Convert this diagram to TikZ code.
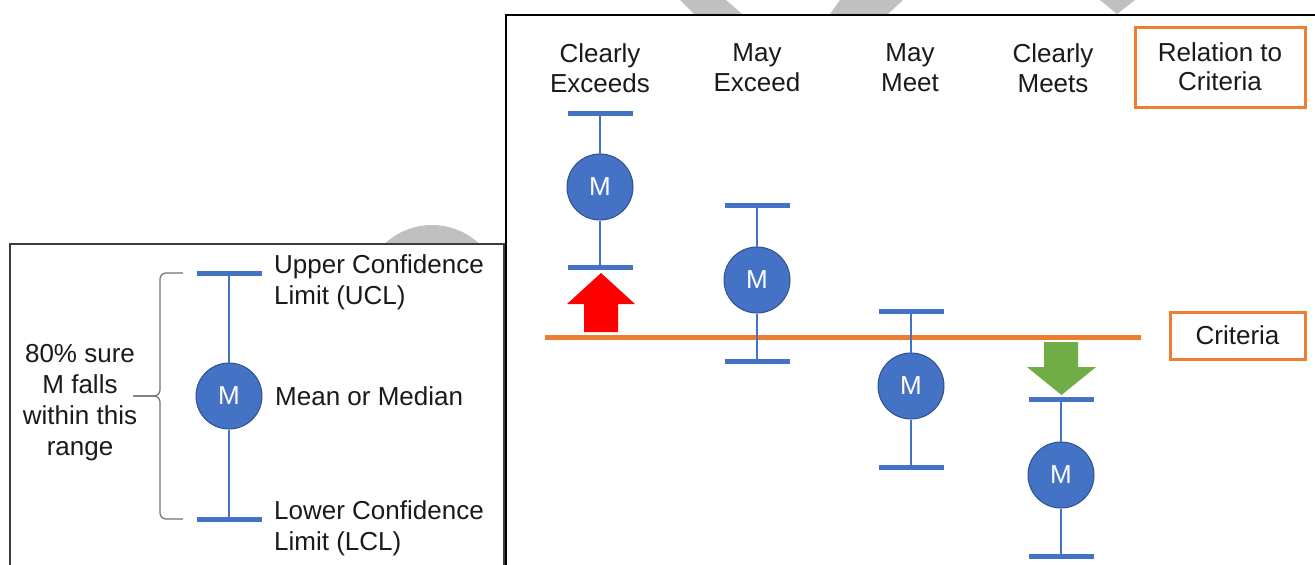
\documentclass[tikz,border=0pt]{standalone}
\usepackage{fontspec}
\setmainfont{Liberation Sans}
\definecolor{blu}{HTML}{4472C4}
\definecolor{bluD}{HTML}{2F528F}
\definecolor{org}{HTML}{ED7D31}
\definecolor{grn}{HTML}{70AD47}
\definecolor{txt}{HTML}{1A1A1A}
\definecolor{wm}{HTML}{C0C0C0}
\definecolor{frm}{HTML}{3C3C3C}
\tikzset{
  lbl/.style={font=\fontsize{26}{30}\selectfont, text=txt, align=center, inner sep=0pt},
  lbll/.style={font=\fontsize{26}{31}\selectfont, text=txt, align=left, inner sep=0pt, anchor=west},
  mnode/.style={circle, fill=blu, draw=bluD, line width=1pt, minimum size=66pt, inner sep=0pt, text=white, font=\fontsize{26}{30}\selectfont},
  capbar/.style={draw=blu, line width=5pt},
  whisk/.style={draw=blu, line width=2pt},
  obox/.style={draw=org, line width=3pt, fill=white, inner sep=0pt, font=\fontsize{26}{29}\selectfont, text=txt, align=center},
}
\begin{document}
\begin{tikzpicture}[x=1pt,y=-1pt]
\useasboundingbox (0,0) rectangle (1315,565);
\clip (0,0) rectangle (1315,565);
\fill[white] (0,0) rectangle (1315,565);
% watermark fragments
\fill[wm] (680,0) -- (726,0) -- (742,14) -- (694,14) -- cycle;
\fill[wm] (840,0) -- (903,0) -- (888,14) -- (830,14) -- cycle;
\fill[wm] (1100,0) -- (1135,0) -- (1117,14) -- cycle;
\fill[wm] (432,294) circle (69);
% main frame
\draw[black, line width=2.5pt] (1330,15) -- (506,15) -- (506,580);
% column headings
\node[lbl] (h1) at (600,68) {Clearly\\Exceeds};
\node[lbl] (h2) at (757,68) {May\\Exceed};
\node[lbl] (h3) at (910,68) {May\\Meet};
\node[lbl] (h4) at (1053,68) {Clearly\\Meets};
\node[obox, minimum width=170pt, minimum height=80pt] (rel) at (1220,67) {Relation to\\Criteria};
% criteria line
\coordinate (crL) at (545,337);
\coordinate (crR) at (1141,337);
\draw[org, line width=5pt] (crL) -- (crR);
\node[obox, minimum width=135pt, minimum height=47pt] (crit) at (1237.5,335.5) {Criteria};
% arrows
\fill[red] (584,332) -- (618,332) -- (618,304) -- (635,304) -- (601,273) -- (567,304) -- (584,304) -- cycle;
\fill[grn] (1044,342) -- (1078,342) -- (1078,367) -- (1096,367) -- (1061.5,395) -- (1027,367) -- (1044,367) -- cycle;
% column 1
\coordinate (t1) at (600,113);
\coordinate (b1) at (600,267);
\node[mnode] (m1) at (600,187) {M};
\draw[whisk] (t1) -- (m1);
\draw[whisk] (m1) -- (b1);
\draw[capbar] ([xshift=-32.5pt]t1) -- ([xshift=32.5pt]t1);
\draw[capbar] ([xshift=-32.5pt]b1) -- ([xshift=32.5pt]b1);
% column 2
\coordinate (t2) at (757,205);
\coordinate (b2) at (757,361);
\node[mnode] (m2) at (757,280) {M};
\draw[whisk] (t2) -- (m2);
\draw[whisk] (m2) -- (b2);
\draw[capbar] ([xshift=-32.5pt]t2) -- ([xshift=32.5pt]t2);
\draw[capbar] ([xshift=-32.5pt]b2) -- ([xshift=32.5pt]b2);
% column 3
\coordinate (t3) at (911,311);
\coordinate (b3) at (911,467);
\node[mnode] (m3) at (911,386) {M};
\draw[whisk] (t3) -- (m3);
\draw[whisk] (m3) -- (b3);
\draw[capbar] ([xshift=-32.5pt]t3) -- ([xshift=32.5pt]t3);
\draw[capbar] ([xshift=-32.5pt]b3) -- ([xshift=32.5pt]b3);
% column 4
\coordinate (t4) at (1061,399);
\coordinate (b4) at (1061,556);
\node[mnode] (m4) at (1061,475) {M};
\draw[whisk] (t4) -- (m4);
\draw[whisk] (m4) -- (b4);
\draw[capbar] ([xshift=-32.5pt]t4) -- ([xshift=32.5pt]t4);
\draw[capbar] ([xshift=-32.5pt]b4) -- ([xshift=32.5pt]b4);
% legend box
\draw[frm, fill=white, line width=2pt] (10,244) rectangle (504,580);
\coordinate (lt) at (229,273);
\coordinate (lb) at (229,519);
\node[mnode] (lm) at (229,396) {M};
\draw[whisk] (lt) -- (lm);
\draw[whisk] (lm) -- (lb);
\draw[capbar] ([xshift=-32.5pt]lt) -- ([xshift=32.5pt]lt);
\draw[capbar] ([xshift=-32.5pt]lb) -- ([xshift=32.5pt]lb);
\node[lbll] (ucl) at (274,282) {Upper Confidence\\Limit (UCL)};
\node[lbll] (mean) at (275,396) {Mean or Median};
\node[lbll] (lcl) at (274,528) {Lower Confidence\\Limit (LCL)};
% brace
\coordinate (brT) at (183,273);
\coordinate (brB) at (183,519);
\coordinate (brM) at (160,396);
\coordinate (brTip) at (133,396);
\draw[gray!90!black, line width=1.2pt, rounded corners=6pt] (brT) -- (160,273) -- (brM) -- (brTip);
\draw[gray!90!black, line width=1.2pt, rounded corners=6pt] (brB) -- (160,519) -- (brM) -- (brTip);
\node[lbl, font=\fontsize{26}{31}\selectfont] (rng) at (80,403) {80\% sure\\M falls\\within this\\range};
\end{tikzpicture}
\end{document}
